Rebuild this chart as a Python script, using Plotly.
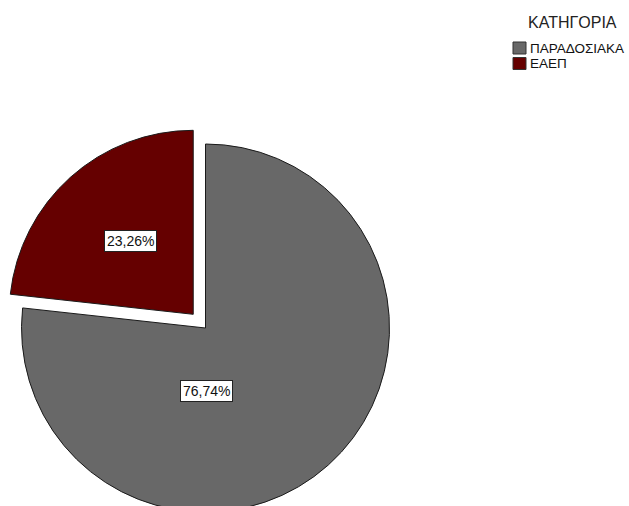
import plotly.graph_objects as go

# Share of each category (percent)
categories = ["ΠΑΡΑΔΟΣΙΑΚΑ", "ΕΑΕΠ"]
shares = [76.74, 23.26]
slice_colors = ["#686868", "#650000"]
pulls = [0.0, 0.1]
legend_title = "ΚΑΤΗΓΟΡΙΑ"

W, H = 629, 540
FONT = "Liberation Sans, Arial, sans-serif"

# Pixel-based placement helpers (margins are zero, so paper == canvas)
def px(x):
    return x / W

def py(y):
    return (H - y) / H

# Label box centres, one per slice (pixels from top-left)
label_centres = [(206.5, 390.5), (130.5, 241.0)]

# Legend layout (pixels from top-left)
legend_title_xy = (572.5, 22.5)
swatch_x = (513, 526)
swatch_rows = [(42, 54), (57.5, 69.5)]
legend_text_x = 527.5

fig = go.Figure(
    go.Pie(
        labels=categories,
        values=shares,
        sort=False,
        direction="clockwise",
        rotation=0,
        pull=pulls,
        marker=dict(colors=slice_colors, line=dict(color="#1a1a1a", width=1)),
        textinfo="none",
        hoverinfo="label+percent",
        showlegend=False,
        domain=dict(x=[px(3.1), px(407.9)], y=[py(530.4), py(125.6)]),
    )
)

# Percentage labels in white boxes
for v, (cx, cy) in zip(shares, label_centres):
    fig.add_annotation(
        x=px(cx), y=py(cy), xref="paper", yref="paper",
        xanchor="center", yanchor="middle",
        text=f"{v:.2f}".replace(".", ",") + "%",
        showarrow=False,
        font=dict(family=FONT, size=14, color="#111"),
        bgcolor="white", bordercolor="#222", borderwidth=1, borderpad=2,
    )

# Legend: title, colour swatches and category names
fig.add_annotation(
    x=px(legend_title_xy[0]), y=py(legend_title_xy[1]),
    xref="paper", yref="paper", xanchor="center", yanchor="middle",
    text=legend_title, showarrow=False,
    font=dict(family=FONT, size=16, color="#222"),
)
for name, color, (y0, y1) in zip(categories, slice_colors, swatch_rows):
    fig.add_shape(
        type="rect", xref="paper", yref="paper",
        x0=px(swatch_x[0]), x1=px(swatch_x[1]), y0=py(y1), y1=py(y0),
        fillcolor=color, line=dict(color="#333", width=1),
    )
    fig.add_annotation(
        x=px(legend_text_x), y=py((y0 + y1) / 2),
        xref="paper", yref="paper", xanchor="left", yanchor="middle",
        text=name, showarrow=False,
        font=dict(family=FONT, size=13.5, color="#111"),
    )

fig.update_layout(
    width=W, height=H, autosize=False,
    margin=dict(l=0, r=0, t=0, b=0, pad=0, autoexpand=False),
    paper_bgcolor="white", plot_bgcolor="white",
    showlegend=False,
)

fig.write_html(
    "out.html",
    config={"displayModeBar": False},
    post_script="document.documentElement.style.overflow='hidden';document.body.style.overflow='hidden';document.body.style.margin='0';",
)
